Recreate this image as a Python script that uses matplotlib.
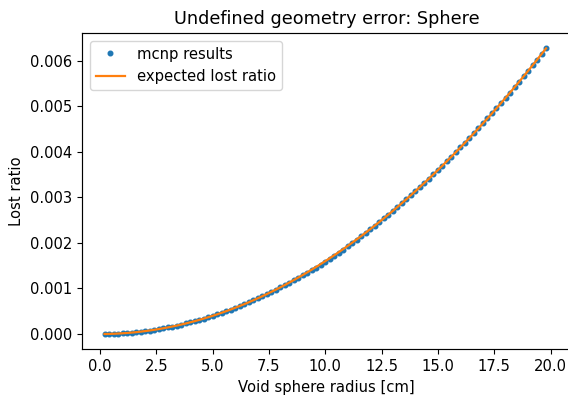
import numpy as np
import matplotlib
matplotlib.use("Agg")
import matplotlib.pyplot as plt

# Void sphere radii [cm]
radius = [
    0.2, 0.4, 0.6, 0.8, 1.0, 1.2, 1.4, 1.6, 1.8, 2.0,
    2.2, 2.4, 2.6, 2.8, 3.0, 3.2, 3.4, 3.6, 3.8, 4.0,
    4.2, 4.4, 4.6, 4.8, 5.0, 5.2, 5.4, 5.6, 5.8, 6.0,
    6.2, 6.4, 6.6, 6.8, 7.0, 7.2, 7.4, 7.6, 7.8, 8.0,
    8.2, 8.4, 8.6, 8.8, 9.0, 9.2, 9.4, 9.6, 9.8, 10.0,
    10.2, 10.4, 10.6, 10.8, 11.0, 11.2, 11.4, 11.6, 11.8, 12.0,
    12.2, 12.4, 12.6, 12.8, 13.0, 13.2, 13.4, 13.6, 13.8, 14.0,
    14.2, 14.4, 14.6, 14.8, 15.0, 15.2, 15.4, 15.6, 15.8, 16.0,
    16.2, 16.4, 16.6, 16.8, 17.0, 17.2, 17.4, 17.6, 17.8, 18.0,
    18.2, 18.4, 18.6, 18.8, 19.0, 19.2, 19.4, 19.6, 19.8,
]

# MCNP lost ratio, in units of 1e-6
mcnp_lost_e6 = [
    1, 3, 6, 10, 16, 23, 31, 41, 52, 64,
    77, 92, 108, 125, 144, 164, 185, 207, 231, 256,
    282, 310, 338, 369, 400, 432, 467, 502, 538, 576,
    615, 655, 697, 740, 784, 829, 876, 924, 973, 1024,
    1076, 1129, 1183, 1239, 1290, 1344, 1398, 1455, 1512, 1575,
    1640, 1710, 1780, 1852, 1925, 2000, 2074, 2150, 2227, 2304,
    2381, 2460, 2540, 2621, 2704, 2788, 2873, 2959, 3047, 3136,
    3226, 3318, 3411, 3505, 3600, 3697, 3795, 3894, 3994, 4096,
    4199, 4303, 4409, 4516, 4624, 4733, 4844, 4956, 5069, 5184,
    5300, 5417, 5535, 5655, 5776, 5898, 6022, 6147, 6273,
]

# Expected lost ratio, in units of 1e-6
expected_lost_e6 = [
    0.64, 2.56, 5.76, 10.24, 16.0, 23.04, 31.36, 40.96, 51.84, 64.0,
    77.44, 92.16, 108.16, 125.44, 144.0, 163.84, 184.96, 207.36, 231.04, 256.0,
    282.24, 309.76, 338.56, 368.64, 400.0, 432.64, 466.56, 501.76, 538.24, 576.0,
    615.04, 655.36, 696.96, 739.84, 784.0, 829.44, 876.16, 924.16, 973.44, 1024.0,
    1075.84, 1128.96, 1183.36, 1239.04, 1296.0, 1354.24, 1413.76, 1474.56, 1536.64, 1600.0,
    1664.64, 1730.56, 1797.76, 1866.24, 1936.0, 2007.04, 2079.36, 2152.96, 2227.84, 2304.0,
    2381.44, 2460.16, 2540.16, 2621.44, 2704.0, 2787.84, 2872.96, 2959.36, 3047.04, 3136.0,
    3226.24, 3317.76, 3410.56, 3504.64, 3600.0, 3696.64, 3794.56, 3893.76, 3994.24, 4096.0,
    4199.04, 4303.36, 4408.96, 4515.84, 4624.0, 4733.44, 4844.16, 4956.16, 5069.44, 5184.0,
    5299.84, 5416.96, 5535.36, 5655.04, 5776.0, 5898.24, 6021.76, 6146.56, 6272.64,
]

r = np.array(radius)
mcnp = np.array(mcnp_lost_e6) * 1e-6
expected = np.array(expected_lost_e6) * 1e-6

plt.rcParams.update({
    "font.size": 10.6,
    "axes.titlesize": 12.7,
    "axes.labelsize": 10.6,
    "xtick.labelsize": 10.6,
    "ytick.labelsize": 10.6,
    "legend.fontsize": 10.6,
    "xtick.major.size": 3.7,
    "ytick.major.size": 3.7,
    "axes.linewidth": 0.85,
})

fig = plt.figure(figsize=(5.68, 3.99), dpi=100)
ax = fig.add_axes([0.1449, 0.1253, 0.8597, 0.7912])

ax.plot(r, mcnp, ".", color="C0", markersize=6.6, label="mcnp results")
ax.plot(r, expected, "-", color="C1", linewidth=1.6, label="expected lost ratio")

ax.set_xlim(-0.786, 20.89)
ax.set_ylim(-0.000329, 0.006602)

ax.set_title("Undefined geometry error: Sphere", pad=6.5)
ax.set_xlabel("Void sphere radius [cm]")
ax.set_ylabel("Lost ratio")
ax.legend(loc="upper left")

fig.savefig("out.png", dpi=100)
